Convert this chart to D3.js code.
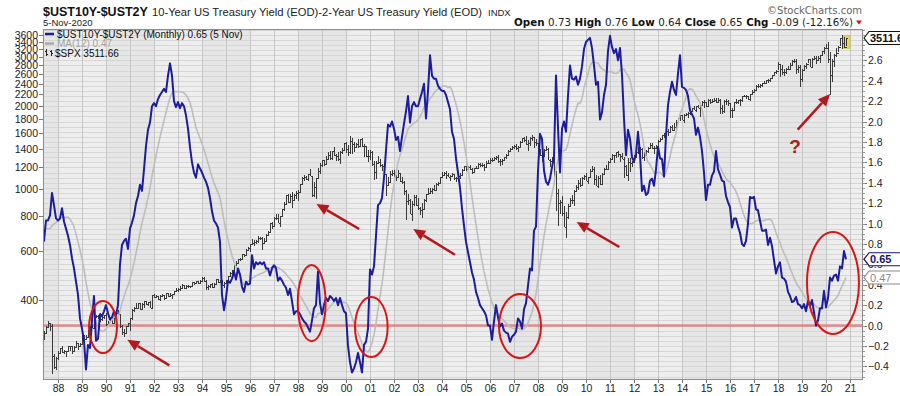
<!DOCTYPE html>
<html>
<head>
<meta charset="utf-8">
<script src="https://cdn.jsdelivr.net/npm/d3@7"></script>
<style>
  body { margin: 0; background: #fff; }
  svg { display: block; font-family: "Liberation Sans", Arial, sans-serif; }
</style>
</head>
<body>
<svg id="chart" width="900" height="396"></svg>
<script>
// 10y-2y spread, monthly close, Jul 1986 .. Nov 2020 (first 11 months only feed the MA)
var spread = [
  0.95, 1.00, 1.05, 1.00, 0.95, 0.90,                                   // 1986 Jul-Dec
  0.85, 0.85, 0.90, 1.00, 1.00, 0.83, 1.03, 1.03, 1.08, 1.30, 1.18, 1.05, // 1987
  1.03, 1.05, 1.15, 1.02, 0.95, 0.88, 0.79, 0.66, 0.56, 0.43, 0.30, 0.07, // 1988
  -0.03, -0.15, -0.43, -0.19, -0.22, 0.05, 0.29, -0.15, -0.13, 0.11, 0.09, 0.14, // 1989
  0.20, 0.12, 0.06, 0.08, 0.14, 0.10, 0.20, 0.60, 0.79, 0.83, 0.85, 0.75, // 1990
  0.95, 1.01, 1.08, 1.20, 1.27, 1.38, 1.32, 1.53, 1.76, 1.92, 1.99, 2.15, // 1991
  2.18, 2.15, 2.22, 2.26, 2.29, 2.32, 2.29, 2.45, 2.57, 2.45, 2.20, 2.14, // 1992
  2.19, 2.13, 2.18, 2.15, 2.06, 1.93, 1.75, 1.60, 1.50, 1.45, 1.58, 1.54, // 1993
  1.50, 1.45, 1.41, 1.35, 1.25, 1.12, 1.03, 1.00, 0.96, 0.82, 0.30, 0.15, // 1994
  0.27, 0.44, 0.42, 0.46, 0.53, 0.45, 0.56, 0.50, 0.38, 0.33, 0.43, 0.40, // 1995
  0.41, 0.69, 0.56, 0.62, 0.60, 0.62, 0.60, 0.62, 0.56, 0.56, 0.49, 0.56, // 1996
  0.59, 0.56, 0.44, 0.47, 0.44, 0.40, 0.37, 0.30, 0.36, 0.24, 0.11, 0.14, // 1997
  0.14, 0.11, 0.07, 0.04, 0.02, -0.02, -0.06, 0.05, 0.17, 0.20, 0.53, 0.22, // 1998
  0.11, 0.20, 0.27, 0.24, 0.29, 0.27, 0.24, 0.27, 0.20, 0.27, 0.20, 0.14, // 1999
  0.12, -0.20, -0.36, -0.46, -0.42, -0.36, -0.27, -0.36, -0.46, -0.19, -0.16, -0.03, // 2000
  0.55, 0.50, 0.58, 0.88, 1.18, 1.20, 1.25, 1.45, 1.72, 1.97, 1.95, 2.00, // 2001
  1.93, 1.82, 1.85, 1.71, 1.85, 1.98, 2.10, 2.25, 1.99, 2.15, 2.19, 2.15, // 2002
  2.15, 2.22, 2.29, 2.37, 2.03, 2.30, 2.65, 2.45, 2.42, 2.42, 2.35, 2.32, // 2003
  2.30, 2.30, 2.26, 2.19, 2.12, 1.90, 1.83, 1.64, 1.50, 1.35, 1.15, 0.98, // 2004
  0.82, 0.72, 0.62, 0.52, 0.45, 0.33, 0.27, 0.20, 0.17, 0.14, 0.10, 0.00, // 2005
  0.00, -0.14, 0.04, 0.20, 0.08, -0.01, 0.02, -0.05, -0.07, -0.08, -0.16, -0.11, // 2006
  -0.09, -0.06, 0.07, 0.04, -0.03, 0.16, 0.22, 0.39, 0.56, 0.54, 0.93, 0.97, // 2007
  1.51, 1.88, 1.83, 1.52, 1.41, 1.38, 1.44, 1.55, 1.65, 2.45, 1.94, 1.50, // 2008
  1.93, 2.00, 1.90, 2.25, 2.55, 2.42, 2.41, 2.44, 2.36, 2.42, 2.54, 2.71, // 2009
  2.78, 2.80, 2.82, 2.72, 2.55, 2.36, 2.39, 2.02, 2.09, 2.26, 2.36, 2.69, // 2010
  2.84, 2.73, 2.67, 2.71, 2.60, 2.72, 2.46, 2.03, 1.67, 1.92, 1.83, 1.65, // 2011
  1.61, 1.68, 1.90, 1.68, 1.32, 1.37, 1.28, 1.30, 1.42, 1.44, 1.37, 1.53, // 2012
  1.75, 1.64, 1.63, 1.46, 1.86, 2.16, 2.29, 2.39, 2.31, 2.26, 2.47, 2.65, // 2013
  2.34, 2.33, 2.31, 2.25, 2.11, 2.07, 2.03, 1.87, 1.94, 1.85, 1.71, 1.50, // 2014
  1.23, 1.38, 1.38, 1.47, 1.51, 1.71, 1.53, 1.48, 1.42, 1.41, 1.27, 1.21, // 2015
  1.16, 0.96, 1.05, 1.05, 0.97, 0.91, 0.80, 0.78, 0.83, 1.00, 1.26, 1.25, // 2016
  1.26, 1.14, 1.13, 1.03, 0.93, 0.93, 0.94, 0.79, 0.86, 0.78, 0.64, 0.51, // 2017
  0.58, 0.62, 0.47, 0.46, 0.43, 0.33, 0.29, 0.23, 0.24, 0.28, 0.21, 0.20, // 2018
  0.17, 0.21, 0.14, 0.24, 0.19, 0.25, 0.13, 0.00, 0.05, 0.17, 0.17, 0.34, // 2019
  0.18, 0.27, 0.47, 0.44, 0.49, 0.50, 0.44, 0.58, 0.56, 0.73, 0.65        // 2020 Jan-Nov
];

// S&P 500 monthly bars, Jun 1987 .. Nov 2020 (open = previous close)
var spxFirstOpen = 290.1;
var spxClose = [
  304.0, 318.7, 329.8, 321.8, 251.8, 230.3, 247.1,
  257.1, 267.8, 258.9, 261.3, 262.2, 273.5, 272.0, 261.5, 271.9, 278.9, 273.7, 277.7,
  297.5, 288.9, 294.9, 309.6, 320.5, 318.0, 346.1, 351.5, 349.2, 340.4, 346.0, 353.4,
  329.1, 331.9, 339.9, 330.8, 361.2, 358.0, 356.2, 322.6, 306.1, 304.0, 322.2, 330.2,
  343.9, 367.1, 375.2, 375.3, 389.8, 371.2, 387.8, 395.4, 387.9, 392.5, 375.2, 417.1,
  408.8, 412.7, 403.7, 414.9, 415.4, 408.1, 424.2, 414.0, 417.8, 418.7, 431.4, 435.7,
  438.8, 443.4, 451.7, 440.2, 450.2, 450.5, 448.1, 463.6, 458.9, 467.8, 461.8, 466.5,
  481.6, 467.1, 445.8, 450.9, 456.5, 444.3, 458.3, 475.5, 462.7, 472.4, 453.7, 459.3,
  470.4, 487.4, 500.7, 514.7, 533.4, 544.8, 562.1, 561.9, 584.4, 581.5, 605.4, 615.9,
  636.0, 640.4, 645.5, 654.2, 669.1, 670.6, 639.9, 652.0, 687.3, 705.3, 757.0, 740.7,
  786.2, 790.8, 757.1, 801.3, 848.3, 885.1, 954.3, 899.5, 947.3, 914.6, 955.4, 970.4,
  980.3, 1049.3, 1101.8, 1111.8, 1090.8, 1133.8, 1120.7, 957.3, 1017.0, 1098.7, 1163.6, 1229.2,
  1279.6, 1238.3, 1286.4, 1335.2, 1301.8, 1372.7, 1328.7, 1320.4, 1282.7, 1362.9, 1389.0, 1469.3,
  1394.5, 1366.4, 1498.6, 1452.4, 1420.6, 1454.6, 1430.8, 1517.7, 1436.5, 1429.4, 1315.2, 1320.3,
  1366.0, 1239.9, 1160.3, 1249.5, 1255.8, 1224.4, 1211.2, 1133.6, 1040.9, 1059.8, 1139.5, 1148.1,
  1130.2, 1106.7, 1147.4, 1076.9, 1067.1, 989.8, 911.6, 916.1, 815.3, 885.8, 936.3, 879.8,
  855.7, 841.2, 848.2, 916.9, 963.6, 974.5, 990.3, 1008.0, 996.0, 1050.7, 1058.2, 1111.9,
  1131.1, 1144.9, 1126.2, 1107.3, 1120.7, 1140.8, 1101.7, 1104.2, 1114.6, 1130.2, 1173.8, 1211.9,
  1181.3, 1203.6, 1180.6, 1156.9, 1191.5, 1191.3, 1234.2, 1220.3, 1228.8, 1207.0, 1249.5, 1248.3,
  1280.1, 1280.7, 1294.8, 1310.6, 1270.1, 1270.2, 1276.7, 1303.8, 1335.8, 1377.9, 1400.6, 1418.3,
  1438.2, 1406.8, 1420.9, 1482.4, 1530.6, 1503.4, 1455.3, 1474.0, 1526.8, 1549.4, 1481.1, 1468.4,
  1378.6, 1330.6, 1322.7, 1385.6, 1400.4, 1280.0, 1267.4, 1282.8, 1166.4, 968.8, 896.2, 903.3,
  825.9, 735.1, 797.9, 872.8, 919.1, 919.3, 987.5, 1020.6, 1057.1, 1036.2, 1095.6, 1115.1,
  1073.9, 1104.5, 1169.4, 1186.7, 1089.4, 1030.7, 1101.6, 1049.3, 1141.2, 1183.3, 1180.6, 1257.6,
  1286.1, 1327.2, 1325.8, 1363.6, 1345.2, 1320.6, 1292.3, 1218.9, 1131.4, 1253.3, 1247.0, 1257.6,
  1312.4, 1365.7, 1408.5, 1397.9, 1310.3, 1362.2, 1379.3, 1406.6, 1440.7, 1412.2, 1416.2, 1426.2,
  1498.1, 1514.7, 1569.2, 1597.6, 1630.7, 1606.3, 1685.7, 1633.0, 1681.6, 1756.5, 1805.8, 1848.4,
  1782.6, 1859.5, 1872.3, 1883.9, 1923.6, 1960.2, 1930.7, 2003.4, 1972.3, 2018.1, 2067.6, 2058.9,
  1995.0, 2104.5, 2067.9, 2085.5, 2107.4, 2063.1, 2103.8, 1972.2, 1920.0, 2079.4, 2080.4, 2043.9,
  1940.2, 1932.2, 2059.7, 2065.3, 2096.9, 2098.9, 2173.6, 2170.9, 2168.3, 2126.2, 2198.8, 2238.8,
  2278.9, 2363.6, 2362.7, 2384.2, 2411.8, 2423.4, 2470.3, 2471.7, 2519.4, 2575.3, 2647.6, 2673.6,
  2823.8, 2713.8, 2640.9, 2648.1, 2705.3, 2718.4, 2816.3, 2901.5, 2914.0, 2711.7, 2760.2, 2506.9,
  2704.1, 2784.5, 2834.4, 2945.8, 2752.1, 2941.8, 2980.4, 2926.5, 2976.7, 3037.6, 3141.0, 3230.8,
  3225.5, 2954.2, 2584.6, 2912.4, 3044.3, 3100.3, 3271.1, 3500.3, 3363.0, 3270.0, 3511.66
];
var spxHigh = [
  309, 323, 337, 330, 328, 256, 249,
  263, 268, 272, 264, 263, 274, 274, 273, 272, 284, 280, 279,
  298, 300, 298, 311, 322, 328, 347, 354, 353, 360, 347, 354,
  360, 336, 344, 347, 362, 368, 369, 357, 324, 315, 323, 331,
  344, 370, 377, 391, 390, 390, 390, 396, 395, 393, 398, 418,
  421, 417, 413, 417, 419, 416, 425, 425, 423, 422, 432, 442,
  442, 449, 456, 452, 454, 454, 451, 464, 464, 470, 469, 471,
  482, 483, 471, 453, 458, 462, 460, 476, 476, 474, 474, 463,
  472, 489, 504, 515, 535, 551, 564, 565, 587, 587, 608, 622,
  637, 665, 657, 659, 680, 673, 673, 668, 690, 711, 758, 762,
  794, 818, 815, 805, 850, 899, 957, 961, 961, 983, 961, 986,
  992, 1050, 1106, 1125, 1122, 1138, 1190, 1122, 1066, 1101, 1193, 1245,
  1280, 1282, 1317, 1364, 1375, 1373, 1421, 1347, 1361, 1375, 1410, 1474,
  1478, 1445, 1553, 1528, 1481, 1475, 1518, 1518, 1530, 1454, 1439, 1390,
  1384, 1377, 1268, 1269, 1316, 1286, 1239, 1219, 1135, 1110, 1163, 1173,
  1176, 1130, 1173, 1147, 1107, 1070, 994, 965, 925, 907, 952, 954,
  935, 864, 895, 924, 966, 1015, 1015, 1011, 1040, 1054, 1063, 1112,
  1155, 1158, 1163, 1150, 1128, 1146, 1141, 1109, 1131, 1142, 1188, 1218,
  1217, 1213, 1229, 1192, 1199, 1220, 1246, 1246, 1243, 1234, 1270, 1276,
  1295, 1297, 1310, 1318, 1326, 1284, 1283, 1306, 1340, 1389, 1407, 1432,
  1441, 1462, 1439, 1498, 1535, 1541, 1556, 1504, 1539, 1576, 1546, 1524,
  1472, 1396, 1359, 1397, 1440, 1405, 1292, 1314, 1304, 1167, 1007, 918,
  944, 875, 832, 888, 930, 956, 996, 1040, 1080, 1101, 1112, 1130,
  1150, 1112, 1181, 1220, 1206, 1131, 1120, 1129, 1148, 1196, 1228, 1263,
  1302, 1345, 1332, 1365, 1371, 1346, 1357, 1307, 1230, 1293, 1293, 1270,
  1334, 1378, 1420, 1422, 1415, 1364, 1392, 1426, 1475, 1470, 1434, 1448,
  1509, 1530, 1570, 1598, 1687, 1654, 1698, 1709, 1730, 1775, 1814, 1849,
  1850, 1868, 1884, 1897, 1925, 1968, 1991, 2006, 2019, 2019, 2075, 2094,
  2072, 2120, 2118, 2126, 2135, 2130, 2132, 2113, 2021, 2094, 2117, 2104,
  2038, 1963, 2073, 2111, 2100, 2120, 2178, 2193, 2188, 2169, 2214, 2278,
  2301, 2371, 2401, 2398, 2419, 2454, 2484, 2491, 2520, 2582, 2657, 2695,
  2873, 2835, 2802, 2718, 2742, 2791, 2849, 2917, 2941, 2940, 2816, 2800,
  2708, 2813, 2860, 2950, 2954, 2964, 3028, 3014, 3022, 3050, 3154, 3248,
  3338, 3394, 3136, 2954, 3068, 3233, 3280, 3515, 3588, 3550, 3521
];
var spxLow = [
  289, 301, 316, 308, 216, 225, 223,
  243, 255, 257, 256, 249, 259, 263, 256, 260, 270, 264, 272,
  277, 287, 288, 294, 307, 316, 318, 344, 343, 333, 336, 342,
  322, 322, 331, 329, 330, 356, 354, 316, 300, 295, 303, 322,
  310, 340, 362, 370, 372, 368, 370, 375, 384, 379, 374, 371,
  406, 405, 401, 396, 409, 401, 406, 410, 413, 402, 418, 428,
  426, 431, 441, 437, 438, 442, 441, 446, 453, 457, 455, 460,
  464, 464, 436, 435, 442, 442, 444, 456, 462, 460, 449, 443,
  458, 469, 485, 499, 511, 530, 543, 551, 560, 573, 581, 601,
  597, 632, 627, 634, 642, 656, 605, 638, 646, 684, 703, 721,
  737, 774, 756, 733, 798, 840, 884, 897, 896, 855, 912, 925,
  912, 980, 1046, 1076, 1086, 1074, 1114, 940, 939, 923, 1096, 1137,
  1205, 1212, 1228, 1280, 1282, 1277, 1323, 1268, 1267, 1233, 1342, 1387,
  1350, 1325, 1339, 1340, 1361, 1420, 1416, 1430, 1420, 1306, 1308, 1255,
  1275, 1216, 1082, 1091, 1232, 1203, 1165, 1124, 945, 1026, 1054, 1114,
  1109, 1074, 1106, 1063, 1048, 952, 776, 877, 815, 768, 873, 872,
  841, 806, 789, 847, 902, 961, 963, 960, 990, 995, 1031, 1053,
  1106, 1124, 1088, 1107, 1076, 1113, 1079, 1060, 1101, 1090, 1127, 1173,
  1163, 1180, 1176, 1137, 1146, 1188, 1191, 1201, 1205, 1168, 1201, 1246,
  1245, 1253, 1268, 1280, 1245, 1220, 1224, 1262, 1290, 1327, 1360, 1385,
  1403, 1389, 1364, 1417, 1476, 1484, 1452, 1371, 1439, 1489, 1407, 1435,
  1270, 1317, 1257, 1315, 1374, 1272, 1200, 1248, 1107, 840, 741, 815,
  805, 735, 667, 784, 862, 889, 869, 979, 992, 1020, 1029, 1086,
  1071, 1045, 1105, 1170, 1040, 1028, 1011, 1040, 1039, 1131, 1173, 1186,
  1257, 1289, 1249, 1295, 1312, 1258, 1283, 1101, 1114, 1075, 1158, 1202,
  1259, 1300, 1341, 1358, 1292, 1267, 1325, 1354, 1397, 1403, 1344, 1398,
  1426, 1485, 1502, 1537, 1581, 1560, 1605, 1627, 1633, 1646, 1747, 1767,
  1774, 1738, 1834, 1814, 1859, 1915, 1930, 1905, 1964, 1821, 2002, 1973,
  1988, 1981, 2040, 2048, 2068, 2056, 2044, 1867, 1872, 1893, 2019, 1993,
  1812, 1810, 1937, 2034, 2025, 1992, 2074, 2147, 2119, 2097, 2084, 2188,
  2233, 2271, 2322, 2329, 2345, 2405, 2407, 2418, 2447, 2520, 2566, 2605,
  2683, 2533, 2586, 2553, 2595, 2699, 2691, 2796, 2864, 2604, 2631, 2347,
  2444, 2681, 2723, 2848, 2750, 2729, 2952, 2822, 2892, 2855, 3050, 3070,
  3214, 2855, 2192, 2447, 2767, 2999, 3115, 3284, 3210, 3234, 3280
];

var leftTicks = [400, 600, 800, 1000, 1200, 1400, 1600, 1800, 2000, 2200, 2400, 2600, 2800, 3000, 3200, 3400, 3600];
var rightTicks = [-0.4, -0.2, 0.0, 0.2, 0.4, 0.6, 0.8, 1.0, 1.2, 1.4, 1.6, 1.8, 2.0, 2.2, 2.4, 2.6];
var yearTicks = d3.range(1988, 2022);

// red markup drawn on the chart: [year, spread value]
var circles = [
  { t: 1989.875, v: -0.015, rt: 0.58, rv: 0.255 },
  { t: 1998.57, v: 0.22, rt: 0.58, rv: 0.373 },
  { t: 2001.055, v: -0.015, rt: 0.68, rv: 0.294 },
  { t: 2007.25, v: -0.005, rt: 0.875, rv: 0.314 },
  { t: 2020.29, v: 0.417, rt: 1.083, rv: 0.50 }
];
var arrows = [
  { t0: 1992.64, v0: -0.39, t1: 1990.89, v1: -0.139 },
  { t0: 2000.55, v0: 0.946, t1: 1998.77, v1: 1.191 },
  { t0: 2004.54, v0: 0.694, t1: 2002.80, v1: 0.946 },
  { t0: 2011.39, v0: 0.770, t1: 2009.61, v1: 1.015 },
  { t0: 2018.82, v0: 1.92, t1: 2020.17, v1: 2.27 }
];
var question = { t: 2018.71, v: 1.76 };

var L = 43, R = 863, T = 29, B = 380;

var x = d3.scaleLinear().domain([1987 + 5 / 12, 2021]).range([44, 850]);
var yR = d3.scaleLinear().domain([-0.534, 2.907]).range([B, T]);
var yL = d3.scaleLog().domain([206, 3784]).range([B, T]);

function spxT(i) { return 1987 + (5 + i) / 12; }
function spreadT(k) { return 1986 + (6 + k) / 12; }

var ma = [];
spread.forEach(function(d, k) {
  if (k >= 11) ma.push({ k: k, v: d3.mean(spread.slice(k - 11, k + 1)) });
});

var svg = d3.select("#chart");

svg.append("defs").append("clipPath").attr("id", "plotclip")
  .append("rect").attr("x", L).attr("y", T).attr("width", R - L).attr("height", B - T);

// background + 2-year shading bands
svg.append("rect").attr("x", L).attr("y", T).attr("width", R - L).attr("height", B - T).attr("fill", "#eeeeee");
var plot = svg.append("g").attr("clip-path", "url(#plotclip)");
plot.selectAll(".band")
    .data(d3.range(1986, 2022, 4))
  .enter().append("rect")
    .attr("x", function(d) { return x(d); })
    .attr("width", function(d) { return x(d + 2) - x(d); })
    .attr("y", T).attr("height", B - T)
    .attr("fill", "#e6e6e6");

// grid
plot.selectAll(".hgrid")
    .data(d3.range(-0.5, 2.95, 0.05))
  .enter().append("line")
    .attr("x1", L).attr("x2", R)
    .attr("y1", function(d) { return Math.round(yR(d)) + 0.5; })
    .attr("y2", function(d) { return Math.round(yR(d)) + 0.5; })
    .attr("stroke", "#d6d6d6").attr("stroke-width", 1);
plot.selectAll(".vgrid")
    .data(yearTicks)
  .enter().append("line")
    .attr("x1", function(d) { return x(d) + 0.5; })
    .attr("x2", function(d) { return x(d) + 0.5; })
    .attr("y1", T).attr("y2", B)
    .attr("stroke", "#c6c6c6").attr("stroke-width", 1);

// zero line (markup)
plot.append("line")
    .attr("x1", L).attr("x2", R)
    .attr("y1", yR(0)).attr("y2", yR(0))
    .attr("stroke", "#e07a7a").attr("stroke-width", 2.5).attr("opacity", 0.85);

// yellow box on current bar
var last = spxClose.length - 1;
plot.append("rect")
    .attr("x", x(spxT(last)) - 3).attr("width", 7)
    .attr("y", yL(spxHigh[last]) - 2)
    .attr("height", yL(spxLow[last]) - yL(spxHigh[last]) + 4)
    .attr("fill", "#e2da62").attr("stroke", "#c9c04a");

// SPX OHLC bars
var bars = plot.append("g").attr("stroke", "#3a3a3a").attr("stroke-width", 1).attr("shape-rendering", "crispEdges");
spxClose.forEach(function(c, i) {
  var xi = Math.round(x(spxT(i))) + 0.5;
  var o = i === 0 ? spxFirstOpen : spxClose[i - 1];
  bars.append("line").attr("x1", xi).attr("x2", xi).attr("y1", yL(spxHigh[i])).attr("y2", yL(spxLow[i]));
  bars.append("line").attr("x1", xi - 1).attr("x2", xi).attr("y1", Math.round(yL(o)) + 0.5).attr("y2", Math.round(yL(o)) + 0.5);
  bars.append("line").attr("x1", xi).attr("x2", xi + 1).attr("y1", Math.round(yL(c)) + 0.5).attr("y2", Math.round(yL(c)) + 0.5);
});

// MA(12) and spread
plot.append("path")
    .datum(ma)
    .attr("fill", "none").attr("stroke", "#bdbdbd").attr("stroke-width", 1.6)
    .attr("d", d3.line().x(function(d) { return x(spreadT(d.k)); }).y(function(d) { return yR(d.v); }));
plot.append("path")
    .datum(spread)
    .attr("fill", "none").attr("stroke", "#1c1c9e").attr("stroke-width", 2).attr("stroke-linejoin", "round")
    .attr("d", d3.line().x(function(d, k) { return x(spreadT(k)); }).y(function(d) { return yR(d); }));

// red circles / arrows
var red = svg.append("g");
red.selectAll("ellipse")
    .data(circles)
  .enter().append("ellipse")
    .attr("cx", function(d) { return x(d.t); })
    .attr("cy", function(d) { return yR(d.v); })
    .attr("rx", function(d) { return x(d.t + d.rt) - x(d.t); })
    .attr("ry", function(d) { return yR(d.v - d.rv) - yR(d.v); })
    .attr("fill", "none").attr("stroke", "#d71616").attr("stroke-width", 2);

arrows.forEach(function(a) {
  var x0 = x(a.t0), y0 = yR(a.v0), x1 = x(a.t1), y1 = yR(a.v1);
  var ang = Math.atan2(y1 - y0, x1 - x0), len = 12, hw = 5.5;
  var bx = x1 - len * Math.cos(ang), by = y1 - len * Math.sin(ang);
  red.append("line").attr("x1", x0).attr("y1", y0).attr("x2", bx).attr("y2", by)
      .attr("stroke", "#b3191c").attr("stroke-width", 2.5);
  red.append("path")
      .attr("d", "M" + x1 + "," + y1 +
        "L" + (bx + hw * Math.sin(ang)) + "," + (by - hw * Math.cos(ang)) +
        "L" + (bx - hw * Math.sin(ang)) + "," + (by + hw * Math.cos(ang)) + "Z")
      .attr("fill", "#b3191c");
});
red.append("text")
    .attr("x", x(question.t)).attr("y", yR(question.v) + 7)
    .attr("text-anchor", "middle")
    .attr("font-size", 19).attr("font-weight", "bold").attr("fill", "#b3191c")
    .text("?");

// frame
svg.append("rect").attr("x", L + 0.5).attr("y", T + 0.5).attr("width", R - L - 1).attr("height", B - T - 1)
    .attr("fill", "none").attr("stroke", "#8c8c8c");

// left axis (SPX, log)
var la = svg.append("g").attr("font-size", 10.5).attr("fill", "#222");
leftTicks.forEach(function(v) {
  var yy = Math.round(yL(v)) + 0.5;
  la.append("line").attr("x1", L - 4).attr("x2", L).attr("y1", yy).attr("y2", yy).attr("stroke", "#777");
  la.append("text").attr("x", L - 5).attr("y", yy + 3.5).attr("text-anchor", "end").text(v);
});

// right axis (spread)
var ra = svg.append("g").attr("font-size", 10.5).attr("fill", "#222");
rightTicks.forEach(function(v) {
  var yy = Math.round(yR(v)) + 0.5;
  ra.append("line").attr("x1", R).attr("x2", R + 4).attr("y1", yy).attr("y2", yy).attr("stroke", "#777");
  ra.append("text").attr("x", R + 5).attr("y", yy + 3.5).text(d3.format(".1f")(v));
});
d3.range(-0.5, 2.95, 0.05).forEach(function(v) {
  var yy = Math.round(yR(v)) + 0.5;
  ra.append("line").attr("x1", R).attr("x2", R + 2).attr("y1", yy).attr("y2", yy).attr("stroke", "#999");
});

// bottom axis
var ba = svg.append("g").attr("font-size", 10.5).attr("fill", "#222");
yearTicks.forEach(function(yr) {
  var xx = Math.round(x(yr)) + 0.5;
  ba.append("line").attr("x1", xx).attr("x2", xx).attr("y1", B).attr("y2", B + 3).attr("stroke", "#777");
  ba.append("text").attr("x", xx).attr("y", B + 12).attr("text-anchor", "middle").text(String(yr).slice(2));
});

// value tags on the right
function tag(yy, label, color, bold, fill) {
  var g = svg.append("g");
  g.append("path")
      .attr("d", "M" + (R + 1) + "," + yy + "L" + (R + 6) + "," + (yy - 6.5) + "L" + 903 + "," + (yy - 6.5) +
        "L" + 903 + "," + (yy + 6.5) + "L" + (R + 6) + "," + (yy + 6.5) + "Z")
      .attr("fill", fill).attr("stroke", color).attr("stroke-width", 1.2);
  g.append("text").attr("x", R + 7).attr("y", yy + 4)
      .attr("font-size", 11).attr("font-weight", bold ? "bold" : "normal").attr("fill", color)
      .text(label);
}
tag(yR(ma[ma.length - 1].v), "0.47", "#8a8a8a", false, "#fff");
tag(yR(spread[spread.length - 1]), "0.65", "#14146e", true, "#fff");
tag(yL(spxClose[last]), "3511.66", "#111", true, "#fff");

// legend
var lg = svg.append("g").attr("font-size", 10);
lg.append("line").attr("x1", 45).attr("x2", 54).attr("y1", 34).attr("y2", 34).attr("stroke", "#1c1c9e").attr("stroke-width", 2.5);
lg.append("text").attr("x", 57).attr("y", 37.5).attr("fill", "#111").text("$UST10Y-$UST2Y (Monthly) 0.65 (5 Nov)");
lg.append("line").attr("x1", 45).attr("x2", 54).attr("y1", 43.5).attr("y2", 43.5).attr("stroke", "#aaa").attr("stroke-width", 2.5);
lg.append("text").attr("x", 57).attr("y", 47).attr("fill", "#a3a3a3").text("MA(12) 0.47");
var icon = lg.append("g").attr("stroke", "#222").attr("stroke-width", 1);
[46.5, 51.5].forEach(function(xx, j) {
  icon.append("line").attr("x1", xx).attr("x2", xx).attr("y1", 49 + j).attr("y2", 56);
  icon.append("line").attr("x1", xx - 1.5).attr("x2", xx).attr("y1", 51.5).attr("y2", 51.5);
  icon.append("line").attr("x1", xx).attr("x2", xx + 1.5).attr("y1", 54.5 - j).attr("y2", 54.5 - j);
});
lg.append("text").attr("x", 55).attr("y", 56.5).attr("fill", "#111").text("$SPX 3511.66");

// header
svg.append("text").attr("x", 43).attr("y", 15.5)
    .attr("font-size", 12.5).attr("font-weight", "bold").attr("fill", "#111")
    .text("$UST10Y-$UST2Y");
svg.append("text").attr("x", 152).attr("y", 15.5)
    .attr("font-size", 11.2).attr("fill", "#222")
    .text("10-Year US Treasury Yield (EOD)-2-Year US Treasury Yield (EOD)");
svg.append("text").attr("x", 488).attr("y", 15.5)
    .attr("font-size", 9.5).attr("fill", "#222")
    .text("INDX");
svg.append("text").attr("x", 43).attr("y", 26)
    .attr("font-size", 9.5).attr("fill", "#222")
    .text("5-Nov-2020");
svg.append("text").attr("x", 862).attr("y", 13.5).attr("text-anchor", "end")
    .attr("font-size", 10).attr("font-family", "DejaVu Sans, sans-serif").attr("fill", "#666")
    .text("\u00a9StockCharts.com");

var stats = [["Open", "0.73"], ["High", "0.76"], ["Low", "0.64"], ["Close", "0.65"], ["Chg", "-0.09 (-12.16%)"]];
var st = svg.append("text").attr("x", 853).attr("y", 26).attr("text-anchor", "end")
    .attr("font-size", 10.3).attr("font-family", "DejaVu Sans, sans-serif").attr("fill", "#222");
stats.forEach(function(s, i) {
  st.append("tspan").attr("font-weight", "bold").attr("fill", "#111").text((i ? " " : "") + s[0] + " ");
  st.append("tspan").text(s[1]);
});
svg.append("path").attr("d", "M856,20.5L862,20.5L859,24.5Z").attr("fill", "#d11");
</script>
</body>
</html>
